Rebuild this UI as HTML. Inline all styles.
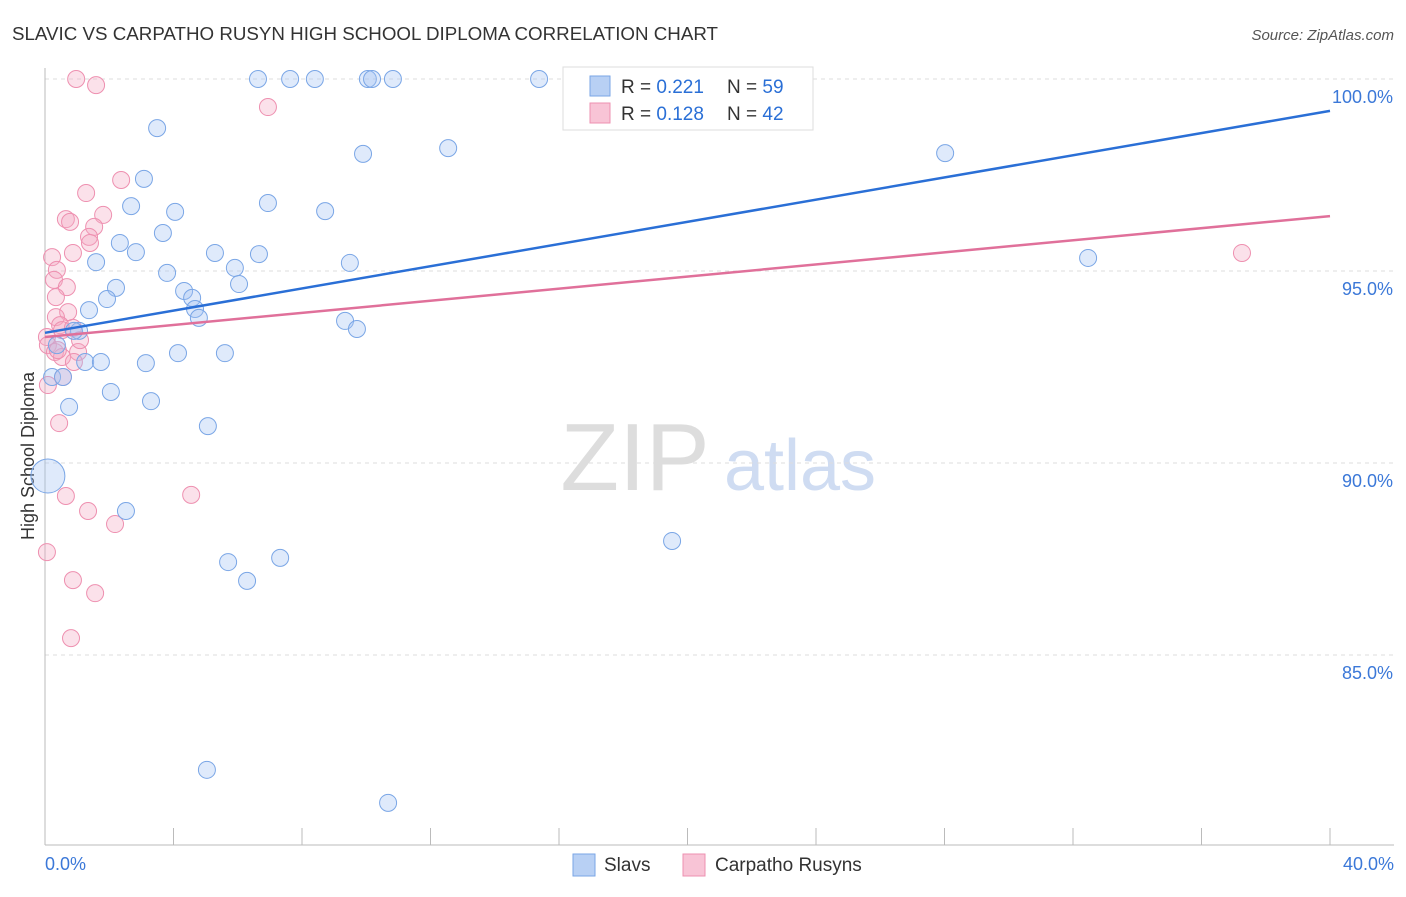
<!DOCTYPE html>
<html><head><meta charset="utf-8"><style>
body{margin:0;background:#fff;font-family:"Liberation Sans",sans-serif}
svg text{font-family:"Liberation Sans",sans-serif}
</style></head><body>
<svg id="chart" width="1406" height="892" viewBox="0 0 1406 892" xmlns="http://www.w3.org/2000/svg">
<text x="12" y="40" font-size="18" fill="#333" textLength="706" lengthAdjust="spacingAndGlyphs">SLAVIC VS CARPATHO RUSYN HIGH SCHOOL DIPLOMA CORRELATION CHART</text>
<text x="1394" y="40" font-size="15" fill="#555" font-style="italic" text-anchor="end">Source: ZipAtlas.com</text>
<text x="34" y="456" font-size="18" fill="#333" transform="rotate(-90 34 456)" text-anchor="middle">High School Diploma</text>
<g><text x="635" y="490" font-size="96" fill="#ddd" font-family="Liberation Serif" text-anchor="middle">ZIP</text><text x="800" y="490" font-size="72" fill="#cfdcf2" text-anchor="middle">atlas</text></g>
<g id="grid"></g><g id="axes"></g><g id="marks"></g><g id="lines"></g>
<g>
<rect x="563" y="67" width="250" height="63" fill="#fff" stroke="#ddd"/>
<rect x="590" y="76" width="20" height="20" fill="#b8d0f4" stroke="#7aa6e6"/>
<text x="621" y="93" font-size="19" fill="#333">R = <tspan fill="#2a6fd6">0.221</tspan></text>
<text x="727" y="93" font-size="19" fill="#333">N = <tspan fill="#2a6fd6">59</tspan></text>
<rect x="590" y="103" width="20" height="20" fill="#f8c4d6" stroke="#ee90b0"/>
<text x="621" y="120" font-size="19" fill="#333">R = <tspan fill="#2a6fd6">0.128</tspan></text>
<text x="727" y="120" font-size="19" fill="#333">N = <tspan fill="#2a6fd6">42</tspan></text>
</g>
<g>
<rect x="573" y="854" width="22" height="22" fill="#b8d0f4" stroke="#7aa6e6"/>
<text x="604" y="871" font-size="19" fill="#333">Slavs</text>
<rect x="683" y="854" width="22" height="22" fill="#f8c4d6" stroke="#ee90b0"/>
<text x="715" y="871" font-size="19" fill="#333">Carpatho Rusyns</text>
</g>
</svg>
<script>
const blueX=[6.63,7.63,8.40,10.05,10.18,10.83,15.38,16.90,3.49,9.90,12.55,28.02,3.08,2.68,4.05,6.94,8.72,3.67,2.33,2.83,5.29,6.66,1.59,5.91,9.49,3.80,6.04,2.21,4.33,4.58,1.93,4.67,1.37,4.79,9.34,9.71,1.06,0.90,0.37,4.14,5.60,1.25,1.74,3.14,0.22,0.56,2.05,3.30,0.75,5.07,0.09,2.52,19.52,5.70,7.32,6.29,32.47,5.04,10.68];
const blueY=[100,100,100,100,100,100,100,100,98.72,98.05,98.20,98.07,97.40,96.69,96.54,96.77,96.56,95.99,95.73,95.49,95.47,95.44,95.23,95.08,95.21,94.95,94.66,94.56,94.48,94.30,94.27,94.01,93.98,93.78,93.70,93.49,93.44,93.44,93.07,92.86,92.86,92.63,92.63,92.60,92.24,92.24,91.85,91.61,91.46,90.96,89.66,88.75,87.97,87.42,87.53,86.93,95.34,82.01,81.15];
const pinkX=[0.97,1.59,6.94,2.37,1.28,1.81,0.65,0.78,1.53,1.37,1.40,0.87,0.22,0.37,0.28,0.68,0.34,0.72,0.34,0.47,0.53,0.87,0.06,0.09,0.31,1.03,0.53,0.90,0.09,0.56,0.44,0.65,4.55,1.34,2.18,0.06,0.87,1.56,0.81,37.26,1.09,0.40];
const pinkY=[100,99.84,99.27,97.37,97.03,96.46,96.35,96.28,96.15,95.89,95.73,95.47,95.36,95.03,94.77,94.58,94.32,93.93,93.80,93.59,93.46,93.52,93.28,93.07,92.89,92.89,92.76,92.63,92.03,92.24,91.04,89.14,89.17,88.75,88.41,87.68,86.95,86.61,85.44,95.47,93.20,92.94];
const blueTrend=[93.39,99.17];
const pinkTrend=[93.28,96.43];
const yTicks=[100,95,90,85];
const xTickLabels=["0.0%","40.0%"];
const NS="http://www.w3.org/2000/svg";
const sx=v=>45+v/40*1285;
const sy=v=>79+(100-v)*38.4;
function mk(tag,attrs,parent){const e=document.createElementNS(NS,tag);for(const k in attrs)e.setAttribute(k,attrs[k]);document.getElementById(parent).appendChild(e);return e;}
yTicks.forEach(t=>{
 const l=mk('line',{x1:45,x2:1394,y1:sy(t),y2:sy(t),stroke:'#ddd','stroke-dasharray':'4,4'},'grid');
 
 
 const tx=mk('text',{x:1393,y:sy(t)+24,'font-size':18,fill:'#3b78d8','text-anchor':'end'},'axes');
 tx.textContent=t.toFixed(1)+'%';
 
 
});
const ax=mk('line',{x1:45,x2:1394,y1:845,y2:845,stroke:'#bbb'},'axes');


const ay=mk('line',{x1:45,x2:45,y1:68,y2:845,stroke:'#bbb'},'axes');


for(let i=0;i<=10;i++){const t=mk('line',{x1:sx(i*4),x2:sx(i*4),y1:828,y2:845,stroke:'#bbb'},'axes');
 
 }
[[0,'start',45],[1,'end',1394]].forEach(([i,a,x])=>{const t=mk('text',{x:x,y:870,'font-size':18,fill:'#3b78d8','text-anchor':a},'axes');t.textContent=xTickLabels[i];
 
 });
function pts(X,Y,fill,stroke,name){X.forEach((x,i)=>{const big=(name==='slavs-point'&&i===50);
 const c=mk('circle',{cx:sx(x),cy:sy(Y[i]),r:big?17:8.5,fill:fill,stroke:stroke,'stroke-width':1},'marks');
 
 });}
pts(pinkX,pinkY,'rgba(244,170,196,0.35)','#ee90b0','carpatho-rusyns-point');
pts(blueX,blueY,'rgba(164,194,244,0.35)','#7aa6e6','slavs-point');
const bl=mk('line',{x1:sx(0),y1:sy(blueTrend[0]),x2:sx(40),y2:sy(blueTrend[1]),stroke:'#2a6fd6','stroke-width':2.5},'lines');


const pl=mk('line',{x1:sx(0),y1:sy(pinkTrend[0]),x2:sx(40),y2:sy(pinkTrend[1]),stroke:'#e0709a','stroke-width':2.5},'lines');


</script>
</body></html>
